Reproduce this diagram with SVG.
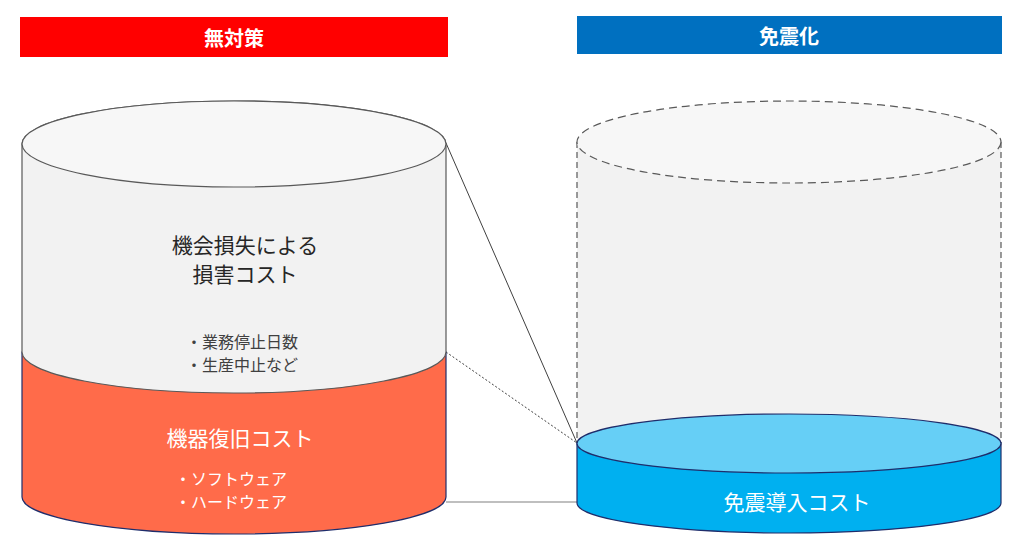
<svg xmlns="http://www.w3.org/2000/svg" width="1028" height="551" viewBox="0 0 1028 551">
<style>
.hdr{font-family:"Noto Sans CJK JP","Noto Sans",sans-serif;font-weight:bold;font-size:20px;fill:#ffffff;text-anchor:middle;dominant-baseline:central}
.t{font-family:"Noto Sans CJK JP","Noto Sans",sans-serif;text-anchor:middle;dominant-baseline:central}
.big{font-size:21px}
.sm{font-size:16px}
.dark{fill:#262626}
.wh{fill:#ffffff}
.navy{stroke:#1f2d6b;stroke-width:1.2}
</style>
<rect width="1028" height="551" fill="#ffffff"/>
<g id="header-left">
<rect x="20" y="17" width="428" height="40" fill="#ff0000"/>
<text class="hdr" x="234" y="37">無対策</text>
</g>
<g id="header-right">
<rect x="577" y="16" width="425" height="38" fill="#0070c0"/>
<text class="hdr" x="789" y="35">免震化</text>
</g>
<g id="connectors" fill="none">
<line x1="446" y1="143" x2="577" y2="443" stroke="#404040" stroke-width="1"/>
<line x1="446" y1="352" x2="577" y2="443" stroke="#404040" stroke-width="1" stroke-dasharray="2 2"/>
<line x1="446" y1="502" x2="577" y2="502" stroke="#808080" stroke-width="1.2"/>
</g>
<g id="recovery-cost">
<path class="navy" d="M22,352 L22,497 A212,37 0 0 0 446,497 L446,352 Z" fill="#ff6b4a"/>
<text class="t big wh" x="240" y="437">機器復旧コスト</text>
<text class="t sm wh" x="231" y="478">・ソフトウェア</text>
<text class="t sm wh" x="231" y="501">・ハードウェア</text>
</g>
<g id="opportunity-loss">
<path d="M22,144 A212,43 0 0 1 446,144 L446,352 A212,41 0 0 1 22,352 Z" fill="#f2f2f2" stroke="#595959" stroke-width="1.2"/>
<ellipse cx="234" cy="144" rx="212" ry="43" fill="#f7f7f7" stroke="#595959" stroke-width="1.2"/>
<text class="t big dark" x="245" y="244">機会損失による</text>
<text class="t big dark" x="245" y="273">損害コスト</text>
<text class="t sm" fill="#404040" x="242" y="341">・業務停止日数</text>
<text class="t sm" fill="#404040" x="242" y="364">・生産中止など</text>
</g>
<g id="virtual-cylinder">
<rect x="577" y="142" width="424" height="301" fill="#f2f2f2"/>
<line x1="577" y1="142" x2="577" y2="443" stroke="#595959" stroke-width="1.2" stroke-dasharray="6 4"/>
<line x1="1001" y1="142" x2="1001" y2="443" stroke="#595959" stroke-width="1.2" stroke-dasharray="6 4"/>
<ellipse cx="789" cy="142" rx="212" ry="41" fill="#f7f7f7" stroke="#595959" stroke-width="1.2" stroke-dasharray="8 5"/>
</g>
<g id="seismic-cost">
<path class="navy" d="M577,443 L577,503 A212,30 0 0 0 1001,503 L1001,443 Z" fill="#00b0f0"/>
<ellipse class="navy" cx="789" cy="443.5" rx="212" ry="29.5" fill="#66cff6"/>
<text class="t big wh" x="797" y="501">免震導入コスト</text>
</g>
</svg>
